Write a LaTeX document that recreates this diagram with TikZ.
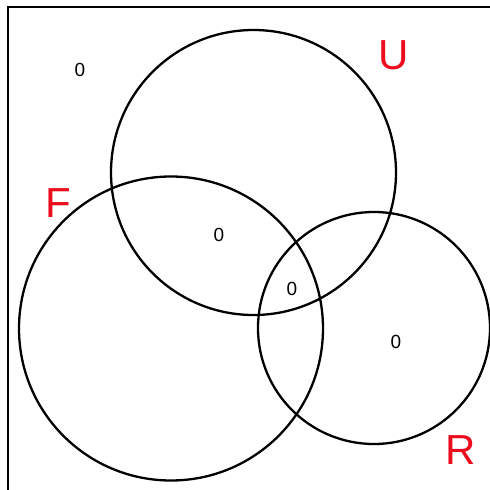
\documentclass[tikz,border=0pt]{standalone}
\usepackage{fontspec}
\setmainfont{Liberation Sans}
\definecolor{lblred}{RGB}{237,12,30}
\begin{document}
\begin{tikzpicture}[x=1pt,y=-1pt,
  setcircle/.style={draw=black,line width=2.3pt},
  setlabel/.style={text=lblred,font=\fontsize{42}{42}\selectfont,inner sep=0pt},
  countlabel/.style={font=\fontsize{19}{19}\selectfont,inner sep=0pt}]
\useasboundingbox (0,0) rectangle (490,490);
\fill[white] (0,0) rectangle (490,490);
\draw[line width=2pt] (8,500) -- (8,7) -- (500,7);
\node[setcircle,circle,minimum size=285pt,inner sep=0pt] (U) at (253.5,172.5) {};
\node[setcircle,circle,minimum size=304pt,inner sep=0pt] (F) at (171,328.5) {};
\node[setcircle,circle,minimum size=232pt,inner sep=0pt] (R) at (374,328) {};
\node[setlabel] (lU) at (394,55) {U};
\node[setlabel] (lF) at (58,203) {F};
\node[setlabel] (lR) at (461,450) {R};
\node[countlabel] (n0) at (80,70) {0};
\node[countlabel] (n1) at (219,235) {0};
\node[countlabel] (n2) at (292,289) {0};
\node[countlabel] (n3) at (396,342) {0};
\end{tikzpicture}
\end{document}
